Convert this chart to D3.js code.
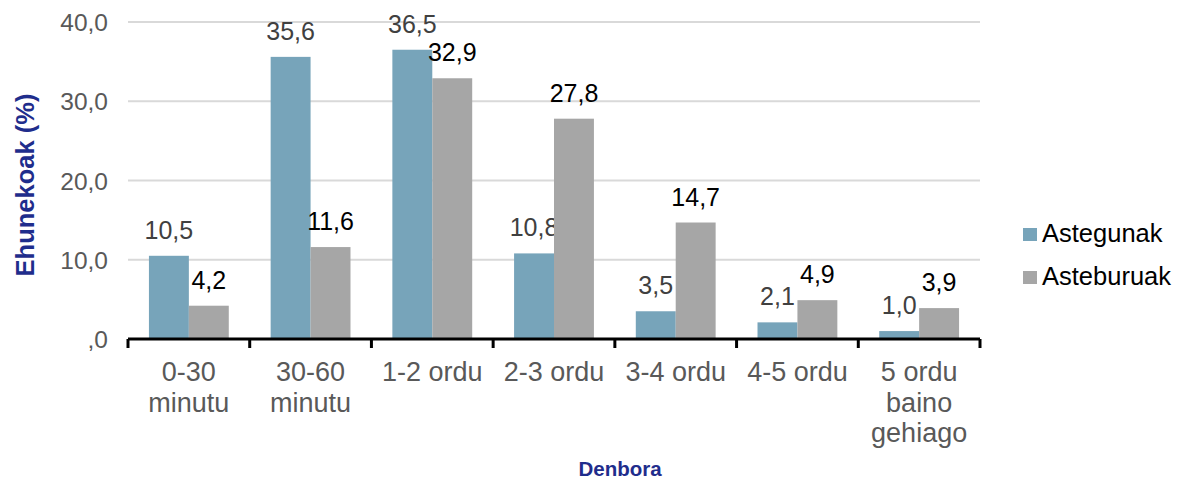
<!DOCTYPE html>
<html><head><meta charset="utf-8">
<script src="https://cdn.jsdelivr.net/npm/d3@7"></script>
<style>body{margin:0;background:#fff}svg{display:block}text{font-family:"Liberation Sans",Arial,sans-serif}</style>
</head><body><svg id="c" width="1185" height="479"></svg>
<script>
const categories = [["0-30","minutu"],["30-60","minutu"],["1-2 ordu"],["2-3 ordu"],["3-4 ordu"],["4-5 ordu"],["5 ordu","baino","gehiago"]];
const seriesNames = ["Astegunak","Asteburuak"];
const astegunak = [10.5,35.6,36.5,10.8,3.5,2.1,1.0];
const asteburuak = [4.2,11.6,32.9,27.8,14.7,4.9,3.9];
const yTicks = [0,10,20,30,40];
const colors = ["#77A4BA","#A6A6A6"];
const labelColors = ["#404040","#000000"];

const svg = d3.select("#c");
const L=128,R=980,T=22,B=339;
const keys = categories.map((c,i)=>i);
const x0 = d3.scaleBand().domain(keys).range([L,R]).padding(0);
const x1 = d3.scaleBand().domain([0,1]).range([x0.bandwidth()*0.172,x0.bandwidth()*0.828]).padding(0);
const y = d3.scaleLinear().domain([0,40]).range([B,T]);
const fmt = v => v===0 ? ",0" : d3.format(".1f")(v).replace(".",",");

// gridlines
svg.append("g").selectAll("line").data(yTicks.filter(d=>d>0)).join("line")
 .attr("x1",L).attr("x2",R).attr("y1",d=>y(d)).attr("y2",d=>y(d))
 .attr("stroke","#D9D9D9").attr("stroke-width",2);
// y labels
svg.append("g").selectAll("text").data(yTicks).join("text")
 .attr("x",108).attr("y",d=>y(d)+9).attr("text-anchor","end")
 .attr("font-size",24.5).attr("fill","#595959").text(fmt);

const series=[astegunak,asteburuak];
series.forEach((vals,s)=>{
 const g=svg.append("g");
 g.selectAll("rect").data(vals).join("rect")
  .attr("x",(d,i)=>x0(i)+x1(s)).attr("width",x1.bandwidth())
  .attr("y",d=>y(d)).attr("height",d=>B-y(d)).attr("fill",colors[s]);
 g.selectAll("text").data(vals).join("text")
  .attr("x",(d,i)=>x0(i)+x1(s)+x1.bandwidth()/2).attr("y",d=>y(d)-17)
  .attr("text-anchor","middle").attr("font-size",25).attr("fill",labelColors[s]).text(fmt);
});

// x axis
const ax=svg.append("g");
ax.append("line").attr("x1",L).attr("x2",R).attr("y1",B).attr("y2",B).attr("stroke","#000").attr("stroke-width",3);
const tickPos=keys.map(k=>x0(k)).concat([R]);
ax.selectAll("line.t").data(tickPos).join("line").attr("class","t")
 .attr("x1",d=>d).attr("x2",d=>d).attr("y1",B).attr("y2",B+9).attr("stroke","#000").attr("stroke-width",3);
categories.forEach((lines,i)=>{
 const t=ax.append("text").attr("text-anchor","middle").attr("font-size",27).attr("fill","#595959");
 lines.forEach((ln,j)=>t.append("tspan").attr("x",x0(i)+x0.bandwidth()/2).attr("y",381+j*30.5).text(ln));
});

// axis titles
svg.append("text").attr("x",620).attr("y",476).attr("text-anchor","middle").attr("font-size",20.5)
 .attr("font-weight","bold").attr("fill","#1F2D8C").text("Denbora");
svg.append("text").attr("transform","translate(34,185) rotate(-90)").attr("text-anchor","middle")
 .attr("font-size",25.5).attr("font-weight","bold").attr("fill","#1F2D8C").text("Ehunekoak (%)");

// legend
const lg=svg.append("g");
seriesNames.forEach((n,i)=>{
 const yy=234+i*43;
 lg.append("rect").attr("x",1023).attr("y",yy-6).attr("width",14).attr("height",13).attr("fill",colors[i]);
 lg.append("text").attr("x",1042).attr("y",yy+8).attr("font-size",25.5).attr("fill","#000").text(n);
});
</script></body></html>
